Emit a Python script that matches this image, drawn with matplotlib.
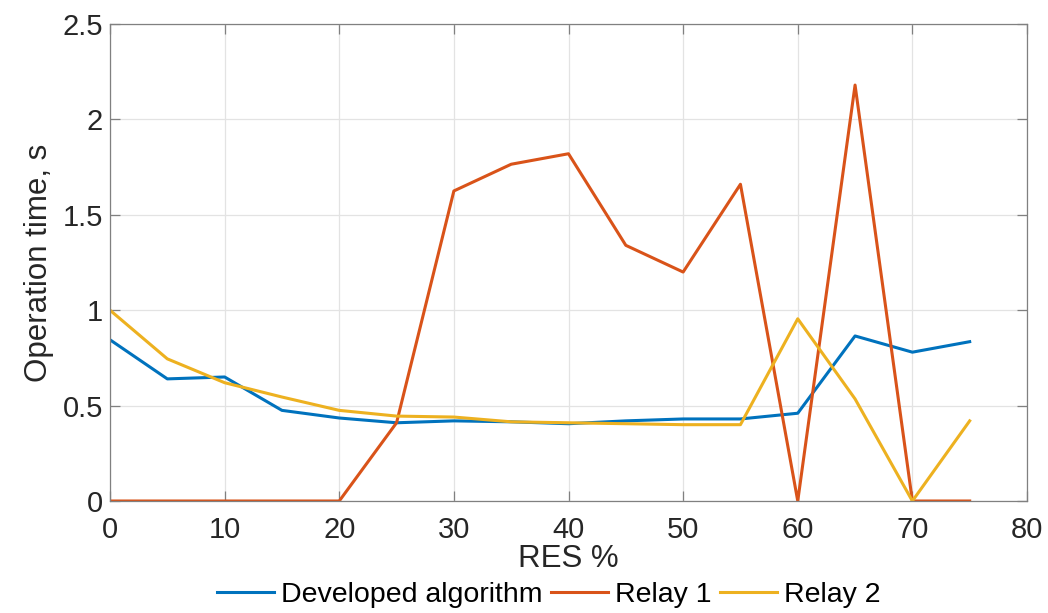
import numpy as np
import matplotlib.pyplot as plt

plt.rcParams['font.family'] = ['Liberation Sans', 'DejaVu Sans']

# Data
res = np.array([0, 5, 10, 15, 20, 25, 30, 35, 40, 45, 50, 55, 60, 65, 70, 75])
developed = np.array([0.845, 0.64, 0.65, 0.475, 0.435, 0.41, 0.42, 0.415, 0.405,
                      0.42, 0.43, 0.43, 0.46, 0.865, 0.78, 0.835])
relay1 = np.array([0, 0, 0, 0, 0, 0.41, 1.625, 1.765, 1.82, 1.34, 1.2, 1.66,
                   0, 2.18, 0, 0])
relay2 = np.array([1.0, 0.745, 0.62, 0.545, 0.475, 0.445, 0.44, 0.415, 0.41,
                   0.405, 0.40, 0.40, 0.955, 0.535, 0, 0.42])

fig = plt.figure(figsize=(10.48, 6.13), dpi=100)
ax = fig.add_axes([110 / 1048, 112 / 613, 917 / 1048, 477 / 613])

ax.plot(res, developed, color='#0072BD', lw=2.2, label='Developed algorithm')
ax.plot(res, relay1, color='#D95319', lw=2.2, label='Relay 1')
ax.plot(res, relay2, color='#EDB120', lw=2.2, label='Relay 2')

ax.set_xlim(0, 80)
ax.set_ylim(0, 2.5)
ax.set_xticks(np.arange(0, 81, 10))
ax.set_yticks(np.arange(0, 2.51, 0.5))
ax.set_yticklabels(['0', '0.5', '1', '1.5', '2', '2.5'])
ax.grid(True, color='#E3E3E3', lw=0.9)
ax.set_axisbelow(True)
for s in ax.spines.values():
    s.set_color('#808080')
    s.set_linewidth(0.9)
ax.tick_params(direction='in', length=7, width=0.9, colors='#808080',
               labelcolor='#262626', labelsize=21, top=True, right=True, pad=5)
ax.tick_params(axis='x', pad=11)
ax.set_xlabel('RES %', fontsize=22.5, color='#262626', labelpad=0)
ax.set_ylabel('Operation time, s', fontsize=22.5, color='#262626', labelpad=6)

handles, labels = ax.get_legend_handles_labels()
fig.legend(handles, labels, loc='center', bbox_to_anchor=(549 / 1048, 18 / 613),
           ncol=3, frameon=False, fontsize=20.5, handlelength=2.0,
           handletextpad=0.25, columnspacing=0.3, borderpad=0, borderaxespad=0)

fig.savefig('out.png', dpi=100)
